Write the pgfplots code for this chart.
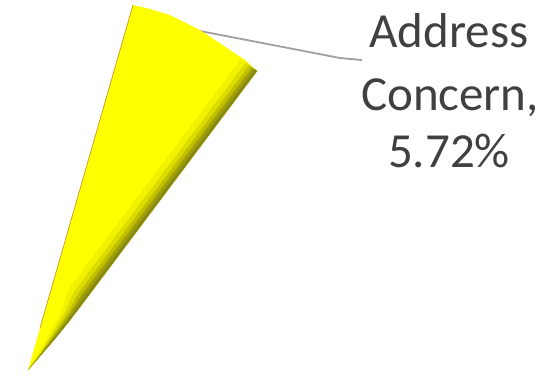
\documentclass[border=0pt]{standalone}
\usepackage{pgfplots}
\pgfplotsset{compat=1.18}
\usepackage{fontspec}
\setmainfont{Carlito}
\definecolor{wedge}{HTML}{FFFF00}
\definecolor{s1}{HTML}{F2F200}
\definecolor{s2}{HTML}{DCDC00}
\definecolor{s3}{HTML}{C0C000}
\definecolor{s4}{HTML}{A0A008}
\definecolor{s5}{HTML}{888814}
\definecolor{leader}{HTML}{A0A0A0}
\definecolor{edgebrown}{HTML}{C8962A}
\definecolor{txt}{HTML}{404040}
\begin{document}
\begin{tikzpicture}
\begin{axis}[scale only axis, width=545pt, height=376pt,
  xmin=0, xmax=545, ymin=0, ymax=376, y dir=reverse,
  hide axis, clip=false]
% leader line
\addplot[leader, line width=1.8pt] coordinates {(200,31) (340,58) (362,60)};
% main wedge (Address Concern, 5.72%)
\addplot[draw=none, fill=wedge] coordinates {
 (28,370) (133,5) (150,9) (170,15) (200,30) (230,50) (245,60) (257,71)
 (200,147) (140,227) (85.3,300) (70.1,320) (55.7,338) (41.9,354) (28,370)} -- cycle;
% shading strips along the outer edge
\addplot[draw=none, fill=s1] coordinates {
 (257,71) (200,147) (140,227) (85.3,300) (70.1,320) (55.7,338) (41.9,354) (28,370)
 (39.5,352.2) (49.4,333.1) (60.6,312.7) (69.4,287.8) (124.1,214.8) (184.1,134.8) (241.1,58.8)} -- cycle;
\addplot[draw=none, fill=s2] coordinates {
 (257,71) (200,147) (140,227) (85.3,300) (70.1,320) (55.7,338) (41.9,354) (28,370)
 (40.2,352.7) (51.3,334.6) (63.4,314.9) (74.2,291.5) (128.9,218.5) (188.9,138.5) (245.9,62.5)} -- cycle;
\addplot[draw=none, fill=s3] coordinates {
 (257,71) (200,147) (140,227) (85.3,300) (70.1,320) (55.7,338) (41.9,354) (28,370)
 (40.8,353.1) (52.7,335.7) (65.6,316.5) (77.8,294.2) (132.5,221.2) (192.5,141.2) (249.5,65.2)} -- cycle;
\addplot[draw=none, fill=s4] coordinates {
 (257,71) (200,147) (140,227) (85.3,300) (70.1,320) (55.7,338) (41.9,354) (28,370)
 (41.2,353.5) (53.8,336.5) (67.2,317.8) (80.5,296.4) (135.2,223.4) (195.2,143.4) (252.2,67.4)} -- cycle;
\addplot[draw=none, fill=s5] coordinates {
 (257,71) (200,147) (140,227) (85.3,300) (70.1,320) (55.7,338) (41.9,354) (28,370)
 (41.5,353.7) (54.8,337.3) (68.7,318.9) (82.9,298.2) (137.6,225.2) (197.6,145.2) (254.6,69.2)} -- cycle;
% thin brown rim on left edge
\addplot[edgebrown, line width=0.7pt] coordinates {(40,328) (133,5)};
% label
\node[anchor=base, text=txt, font=\fontsize{49}{60}\selectfont] at (axis cs:449,47) {Address};
\node[anchor=base, text=txt, font=\fontsize{49}{60}\selectfont] at (axis cs:450,110) {Concern,};
\node[anchor=base, text=txt, font=\fontsize{49}{60}\selectfont] at (axis cs:449,167) {5.72\%};
\end{axis}
\path (current axis.south west) rectangle (current axis.north east);
\end{tikzpicture}
\end{document}
